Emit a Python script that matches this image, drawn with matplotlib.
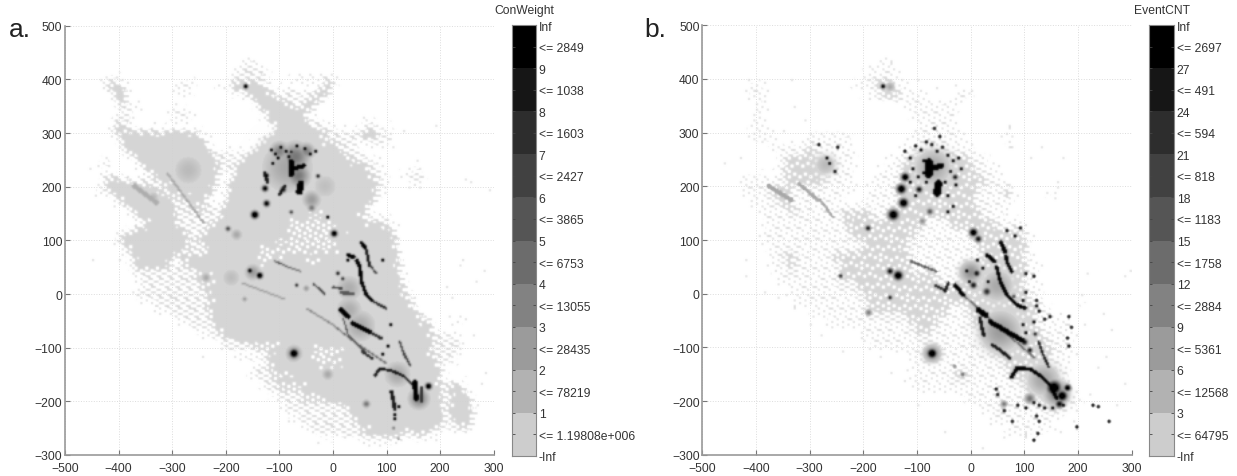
#!/usr/bin/env python
import numpy as np
import matplotlib
matplotlib.use('Agg')
import matplotlib.pyplot as plt
from matplotlib.colors import LinearSegmentedColormap, ListedColormap

plt.rcParams['font.family'] = ['Liberation Sans', 'DejaVu Sans']

#gray of each colorbar band, bottom to top
band_grays = [205, 178, 155, 130, 108, 85, 65, 45, 22, 0]

con_labels = ['-Inf', '<= 1.19808e+006', '1', '<= 78219', '2', '<= 28435', '3', '<= 13055', '4', '<= 6753', '5',
              '<= 3865', '6', '<= 2427', '7', '<= 1603', '8', '<= 1038', '9', '<= 2849', 'Inf']
evt_labels = ['-Inf', '<= 64795', '3', '<= 12568', '6', '<= 5361', '9', '<= 2884', '12', '<= 1758', '15',
              '<= 1183', '18', '<= 818', '21', '<= 594', '24', '<= 491', '27', '<= 2697', 'Inf']

#panel a: y -> x spans of the solid light area
a_dense = {
    390: [(-425, -395), (-190, -130), (-15, 5)], 380: [(-420, -385), (-195, -115), (-30, 0)],
    370: [(-410, -385), (-165, -105), (-40, -10)], 360: [(-405, -385), (-150, -90), (-50, -20)],
    350: [(-400, -385), (-140, -75), (-55, -30)], 340: [(-135, -60), (-65, -40)], 330: [(-125, -50)],
    320: [(-120, -45)], 310: [(-410, -380), (-110, -40)], 300: [(-410, -330), (-320, -250), (-110, -10), (50, 85)],
    290: [(-400, -240), (-130, -20), (55, 80)], 280: [(-400, -235), (-135, 0)], 270: [(-395, -230), (-150, 10)],
    260: [(-385, -225), (-155, 20)], 250: [(-370, -220), (-165, 40)], 240: [(-360, -215), (-175, 60)],
    230: [(-350, -215), (-180, 65)], 220: [(-340, -215), (-185, 75)],
    210: [(-425, -380), (-325, -215), (-195, 80)], 200: [(-425, -340), (-315, -215), (-195, 85)],
    190: [(-420, -320), (-305, -220), (-200, 75)], 180: [(-410, -305), (-290, -230), (-200, 80)],
    170: [(-400, -300), (-275, -235), (-205, 75)], 160: [(-385, -295), (-260, -240), (-205, 70)],
    150: [(-375, -290), (-250, -240), (-210, 60)], 140: [(-365, -290), (-215, -60), (-20, 60)],
    130: [(-350, -300), (-230, -80), (-10, 95)], 120: [(-375, -280), (-240, -90), (20, 110)],
    110: [(-395, -270), (-240, -80), (0, 115)], 100: [(-405, -265), (-255, -60), (-10, 120)],
    90: [(-395, -270), (-240, -120), (10, 120)], 80: [(-385, -285), (-235, -130), (5, 122)],
    70: [(-375, -290), (-285, -140), (-110, 125)], 60: [(-375, -300), (-285, -50), (-30, 125)],
    50: [(-370, -310), (-270, 125)], 40: [(-255, 125)], 30: [(-255, 128)], 20: [(-250, 130)],
    10: [(-240, 135)], 0: [(-236, 137)], -10: [(-235, 140)], -20: [(-235, 145)], -30: [(-233, 150)],
    -40: [(-228, 165)], -50: [(-224, 183)], -60: [(-220, 185)], -70: [(-215, 185)], -80: [(-205, 186)],
    -90: [(-170, 186)], -100: [(-150, 186)], -110: [(-124, -45), (15, 186)], -120: [(-124, -40), (15, 190)],
    -130: [(-124, -30), (10, 195)], -140: [(-124, 199)], -150: [(-115, 200)], -160: [(-110, 202)],
    -170: [(-105, 205), (211, 240)], -180: [(-105, 205), (211, 248)], -190: [(-60, 205), (213, 255)],
    -200: [(-15, 205), (214, 260)], -210: [(25, 205), (214, 260)], -220: [(30, 208), (215, 262)],
    -230: [(35, 211), (217, 262)], -240: [(45, 211), (222, 260)], -250: [(50, 190), (235, 255)],
    -260: [(56, 137), (150, 175)],
}
#panel a: y -> x spans of the thin dotted fringe
a_sparse = {
    430: [(-170, -140)], 420: [(-180, -130)], 410: [(-185, -120)], 400: [(-430, -400), (-190, -120), (-70, 5)],
    390: [(-290, -260), (-215, -205)], 380: [(-300, -260), (-100, -70)], 370: [(-90, -40)], 360: [(-90, -50)],
    350: [(-375, -355), (-75, -55)], 340: [(-400, -375), (-300, -270)], 330: [(-400, -370), (-305, -260)],
    320: [(-410, -380), (-40, -20), (55, 75)], 310: [(-40, 0), (60, 80)], 300: [(-330, -320), (-10, 30), (30, 110)],
    290: [(-20, 110)], 280: [(0, 40), (70, 100)], 270: [(10, 50)], 260: [(-225, -155), (20, 60)],
    250: [(-430, -420), (-220, -165), (40, 75)], 240: [(-440, -410), (-215, -175), (60, 85)],
    230: [(-215, -180), (65, 100), (150, 165)], 220: [(-440, -400), (75, 90), (130, 170)],
    210: [(-380, -325), (80, 100), (145, 165)], 200: [(-440, -425), (-340, -315), (85, 105), (145, 160)],
    190: [(-440, -420), (-320, -305), (75, 90)], 180: [(-305, -290), (80, 95)], 170: [(-300, -275)],
    160: [(-295, -260), (-240, -205)], 150: [(-290, -250), (-240, -210)], 140: [(-290, -215), (60, 105)],
    130: [(-300, -230), (95, 110)], 120: [(-280, -240), (110, 120)],
    110: [(-270, -240)], 100: [(-265, -255)], 90: [(-270, -240)],
    80: [(-285, -235)], 70: [(-385, -375), (-140, -110)], 60: [(-50, -30)], 50: [(-380, -370), (-310, -270)],
    40: [(-373, -255)], 30: [(-370, -255), (125, 140)], 20: [(-360, -250)], 10: [(-360, -240)],
    0: [(-373, -236), (137, 150)], -10: [(-360, -235), (140, 155)], -20: [(-330, -235), (145, 155)],
    -30: [(-335, -233), (150, 160)], -40: [(-300, -228)], -50: [(-290, -224), (222, 240)], -60: [(-270, -220)],
    -70: [(-250, -215), (185, 195)], -80: [(-230, -205), (186, 236)], -90: [(-210, -170), (186, 240)],
    -100: [(-205, -150), (186, 240)], -110: [(186, 235)], -120: [(-180, -124), (190, 230)],
    -130: [(195, 220)], -140: [(-155, -124)], -150: [(-160, -115), (200, 210)], -160: [(-140, -110)],
    -170: [(-130, -105)], -180: [(-125, -105)], -190: [(-105, -60)], -200: [(-100, -15)], -210: [(-93, 25), (205, 214)],
    -220: [(-90, 30)], -230: [(-70, 35)], -240: [(-65, 45)], -250: [(-50, 50), (190, 235)], -260: [(-30, 56), (137, 150), (175, 200)],
    -270: [(50, 130), (150, 165)],
}
#panel a: gaps inside the solid area, peppered with white
a_thin = {
    140: [(-60, -20)], 130: [(-80, -10)], 120: [(-90, 20)], 110: [(-80, 0)], 100: [(-60, -10)], 90: [(-120, 10)], 80: [(-130, 5)],
    -110: [(-45, 15)], -120: [(-40, 15)], -130: [(-30, 10)], -100: [(-130, -100)], -90: [(-180, -150)], -140: [(-125, -100)],
    -160: [(-110, -70)], -180: [(-105, -50)], 40: [(-255, -225)], 20: [(-250, -225)],
}
#panel a: ridges (gray level, half width, points)
a_ridges = [
    (10, 3.5, [(28, 72), (38, 68)]), (10, 3.0, [(44, 62), (50, 50), (53, 22), (62, -2), (72, -12)]),
    (8, 2.0, [(72, -12), (87, -21), (99, -27)]),
    (10, 3.0, [(53, 94), (60, 86)]), (9, 2.5, [(62, 80), (68, 53)]), (7, 1.6, [(68, 53), (81, 38)]),
    (10, 4.5, [(14, -30), (28, -42)]), (10, 4.0, [(36, -55), (47, -60), (68, -71)]), (8, 2.5, [(68, -71), (90, -83)]),
    (6, 1.4, [(19, -46), (28, -77), (62, -111)]), (8, 2.2, [(55, -108), (72, -120)]),
    (9, 2.4, [(78, -152), (87, -140), (106, -142), (130, -152)]), (8, 2.2, [(130, -152), (149, -170)]),
    (7, 1.8, [(124, -89), (133, -114), (144, -133)]),
    (10, 4.5, [(152, -165), (155, -195)]), (8, 3.5, [(165, -175), (165, -200)]),
    (9, 3.2, [(109, -182), (115, -214)]),
    (6, 1.3, [(-109, 61), (-85, 50)]), (5, 1.2, [(-85, 50), (-62, 42)]), (7, 1.6, [(-37, 19), (-16, 0)]), (7, 2.0, [(0, 12), (16, 10)]),
    (6, 3.0, [(16, 2), (37, 0)]),
    (4, 1.2, [(-50, -27), (0, -58)]), (5, 1.2, [(0, -58), (40, -90), (100, -130)]),
    (2.5, 1.6, [(-310, 225), (-240, 130)]), (2.2, 4, [(-370, 200), (-330, 170)]), (3, 1.2, [(-170, 20), (-90, -10)]),
    (10, 5, [(-78, 222), (-78, 245)]), (10, 4, [(-76, 232), (-55, 238)]), (10, 6, [(-63, 190), (-60, 205)]),
    (9, 3, [(-100, 185), (-90, 200)]), (9, 3, [(-128, 225), (-122, 208)]),
]
#panel a: soft patches (x, y, level, radius)
a_spots = [
    (-85, 235, 2.5, 48), (-70, 255, 4.5, 24), (-65, 220, 4.5, 20), (-40, 175, 3, 16), (-100, 265, 4, 16), (-50, 265, 4, 14),
    (-270, 230, 1.7, 32), (-15, 200, 1.5, 28), (-335, 180, 1.8, 10), (-73, -111, 4, 13), (-73, -111, 14, 7),
    (-163, 386, 14, 3.5), (-78, 264, 14, 2.5), (-124, 220, 12, 4), (-127, 196, 12, 5), (-124, 168, 12, 5), (-146, 147, 14, 6), (-93, 194, 10, 5), (-28, 219, 12, 3),
    (-196, 121, 8, 4), (-155, 43, 12, 4), (-137, 34, 14, 5), (-40, 160, 5, 6), (2, 112, 14, 5), (-78, 152, 9, 3),
    (9, 38, 12, 3), (18, 28, 10, 3), (-68, 16, 12, 2.5), (-237, 30, 2.5, 8), (-165, -10, 3.5, 4), (-50, 10, 3.5, 5),
    (160, -195, 4, 18), (178, -172, 14, 5), (62, -205, 5, 6), (-10, -150, 2.5, 10), (113, -250, 6, 2.5), (122, -270, 8, 1.5),
    (-150, 40, 3, 14), (30, 10, 2.2, 25), (30, -30, 2.2, 25), (-180, 110, 2.5, 10), (-190, 30, 1.6, 20), (50, -60, 2.4, 30), (120, -150, 2.4, 25),
]
#panel a: loose dots outside the fringe
a_dots = [(-345, 230), (-455, 230), (-360, 130), (-400, 60), (-350, -5), (-255, -60), (-245, -120), (-450, 60),
          (190, 310), (130, 300), (110, 270), (160, 195), (245, 210), (290, 190), (255, 205), (280, 40), (235, 50), (265, 20),
          (210, 10), (220, -10), (245, -50), (260, -80), (275, -170), (300, -50), (-85, -240), (-30, -280), (20, -270), (-195, -70),
          (-185, -100), (-135, -150), (240, 60), (268, -210), (282, -150)]
a_dark = [(-118, 265), (-110, 258), (-100, 270), (-90, 262), (-85, 252), (-70, 272), (-55, 268), (-45, 258), (-35, 262), (-105, 250), (-115, 240),
          (25, 60), (-12, 140), (90, 60), (113, -235), (112, -228), (120, -212), (105, -60), (100, -100), (90, -115)]

#panel b: areas thick with marks, rows 20 units tall
b_dense = {
    390: [(-180, -150)], 370: [(-170, -130)], 270: [(-310, -290)], 250: [(-345, -280), (-120, 0)],
    230: [(-350, -275), (-130, 10)], 210: [(-345, -270), (-130, 30)], 190: [(-374, -335), (-130, 10), (60, 75)],
    170: [(-360, -330), (-135, 10)], 150: [(-335, -320), (-240, -185), (-145, 20)],
    130: [(-235, -90), (-40, 50)], 110: [(-225, -100), (0, 100)], 90: [(-200, -120), (10, 105)], 70: [(-350, -325), (-260, -110), (20, 100)],
    50: [(-340, -325), (-240, -110), (0, 105)], 30: [(-250, -60), (-20, 100)], 10: [(-215, 100)], -10: [(-195, 110)],
    -30: [(-190, -40), (-10, 125)], -50: [(-120, -60), (0, 120)], -70: [(-105, -70), (20, 130)], -90: [(30, 150)],
    -110: [(-85, -55), (40, 150)], -130: [(60, 140)], -150: [(-35, -5), (70, 150)], -170: [(100, 165)], -190: [(125, 180)],
    -210: [(50, 65), (135, 170)],
}
#panel b: areas of loose marks
b_sparse = {
    430: [(-170, -145)], 410: [(-195, -130)], 390: [(-415, -395), (-215, -120)], 370: [(-415, -380), (-190, -90), (-30, 0)],
    350: [(-400, -380), (-125, -50), (-60, -20)], 330: [(-405, -385), (-110, -30)], 310: [(-410, -380), (-100, -20)],
    290: [(-410, -360), (-300, -220), (-110, -10), (60, 85)], 270: [(-370, -220), (-130, 10)], 250: [(-355, -215), (-150, 30)],
    230: [(-360, -220), (-170, 50)], 210: [(-430, -215), (-185, 70)], 190: [(-425, -215), (-190, 85), (150, 165)], 170: [(-410, -240), (-200, 80)],
    150: [(-395, -210), (-205, 70)], 130: [(-385, -70), (-60, 100)], 110: [(-390, 110)], 90: [(-385, 110)], 70: [(-375, 120)],
    50: [(-370, 125)], 30: [(-365, 125)], 10: [(-340, 130)], -10: [(-330, 135), (205, 215)], -30: [(-300, 150)],
    -50: [(-270, 185)], -70: [(-210, 190)], -90: [(-190, 190)], -110: [(-120, 195)], -130: [(-110, 180)],
    -150: [(-115, 185)], -170: [(-110, 190)], -190: [(-15, 205)], -210: [(15, 200)], -230: [(30, 170)], -250: [(60, 150), (190, 200)],
}
b_ridges = [
    (10, 3.5, [(30, 72), (45, 60)]), (10, 3.2, [(48, 50), (55, 22), (67, -2), (86, -21), (101, -27)]),
    (10, 3.5, [(56, 96), (64, 78)]), (10, 3.0, [(66, 70), (67, 60), (76, 41)]),
    (10, 5, [(14, -30), (28, -40)]), (10, 4.5, [(36, -52), (55, -63), (73, -74), (95, -86)]),
    (9, 3, [(17, -46), (24, -77)]), (9, 3, [(40, -95), (55, -105), (73, -120)]),
    (10, 3.2, [(76, -155), (86, -138), (110, -140), (129, -152), (148, -170), (160, -195)]),
    (9, 2.0, [(126, -89), (135, -114), (145, -136)]),
    (8, 2.2, [(-66, 16), (-48, 7)]), (9, 2.6, [(-42, 19), (-48, 5)]), (10, 3.5, [(-29, 16), (-14, -2)]),
    (6, 1.8, [(-110, 60), (-65, 42)]), (5, 1.6, [(-14, -2), (50, -60), (120, -120)]),
    (2.5, 3, [(-320, 205), (-285, 175)]), (2.5, 2.2, [(-280, 175), (-256, 142)]), (2.5, 4, [(-375, 200), (-335, 175)]),
    (10, 7, [(-78, 222), (-78, 245)]), (10, 5, [(-76, 232), (-55, 238)]), (10, 7, [(-63, 188), (-60, 205)]),
]
b_spots = [
    (-70, 235, 2.5, 32), (-72, -111, 4, 14), (-72, -111, 14, 7.5), (-163, 386, 14, 3.5), (-150, 385, 2.5, 8),
    (-122, 217, 14, 6), (-129, 195, 14, 7), (-125, 169, 14, 7),
    (-144, 147, 14, 8), (-96, 194, 11, 5), (-191, 122, 11, 4), (-29, 217, 11, 4), (5, 114, 14, 6), (14, 102, 11, 5), (-76, 153, 7, 5),
    (-150, 42, 11, 5), (-135, 34, 14, 7), (-242, 33, 11, 3), (-150, -7, 12, 3), (-190, -35, 5, 5), (5, 16, 11, 5), (11, 38, 11, 5),
    (30, 4, 9, 6), (160, -185, 4.5, 20), (155, -175, 14, 11), (170, -190, 14, 8), (165, -205, 11, 6), (180, -175, 14, 5),
    (110, -195, 5, 8), (62, -205, 5, 5), (-15, -150, 7, 3), (-30, -135, 6, 2.5), (100, -90, 11, 5), (120, -75, 11, 3), (-270, 240, 1.7, 20),
    (-90, 135, 4, 5), (80, -5, 9, 3), (110, -105, 11, 4), (0, 40, 3.5, 18), (50, 15, 2.4, 28), (55, -70, 3, 35), (135, -160, 2.6, 28),
]
#panel b: black specks
b_dark = [(-125, 262), (-115, 250), (-105, 272), (-95, 265), (-90, 245), (-85, 280), (-75, 275), (-65, 262), (-55, 270), (-45, 255), (-35, 245),
          (-25, 250), (-40, 225), (-30, 200), (-20, 230), (-110, 230), (-100, 215), (-90, 222), (-85, 205), (-50, 205), (-45, 180), (-35, 160),
          (-45, 150), (-115, 205), (-105, 180), (-70, 305), (-60, 290), (-285, 275), (-270, 250), (-265, 240), (-255, 225), (-250, 270),
          (90, 120), (65, 115), (80, 105), (100, 35), (115, 30), (125, -35), (135, -50), (145, -45), (180, -45), (185, -65), (178, -85), (180, -100),
          (115, -55), (95, -60), (100, -75), (85, -210), (100, -215), (115, -205), (125, -210), (135, -215), (120, -230), (125, -240), (122, -262),
          (115, -275), (75, -240), (60, -220), (45, -180), (47, -190), (195, -250), (225, -210), (235, -213), (255, -240), (150, -215), (170, -210),
          (-5, 20), (-10, 40), (30, 20), (20, 45), (10, 60), (100, 0), (95, -15), (120, -15), (120, -25)]
#panel b: pale specks outside the main body
b_dots = [(-430, 250), (-460, 240), (-390, 280), (-310, 320), (-330, 345), (-350, 300), (-335, 395), (-150, 425), (-160, 410), (-190, 420), (-100, 395), (-65, 380), (-30, 385),
          (0, 375), (70, 310), (75, 270), (110, 250), (130, 270), (170, 250), (160, 205), (140, 185), (-420, 60), (-420, 30), (-385, 0), (-360, -10), (-300, -60), (-200, -90), (-170, -120),
          (-150, -150), (-100, -210), (-50, -260), (20, -290), (60, -270), (100, -265), (150, -230), (165, -260), (220, -190), (210, -60), (215, 35), (250, -120), (235, -140), (285, -170),
          (270, -210), (295, 40), (245, -40), (260, -70), (-240, -110), (-280, -80), (-330, -30), (285, 30)]

fig = plt.figure(figsize=(12.37, 4.77), dpi=100)
W, H = 1237.0, 477.0

level_cmap = LinearSegmentedColormap.from_list('lev', [(0, (1, 1, 1, 0))] + [((i + 1) / 10.0, (g / 255.0, g / 255.0, g / 255.0, 1)) for i, g in enumerate(band_grays)])
level_norm = plt.Normalize(0, 10)

CELL = 2.5
N = 320
xc = -500 + (np.arange(N) + 0.5) * CELL
yc = -300 + (np.arange(N) + 0.5) * CELL
XX, YY = np.meshgrid(xc, yc)
#stipple threshold, golden ratio steps so the dots do not line up, 2 cells a dot
ii, jj = np.meshgrid(np.arange(N) // 2, np.arange(N) // 2)
dither = (ii * 0.7548777 + jj * 0.5698403) % 1.0


def smooth(a, sigma):
    r = int(3 * sigma) + 1
    k = np.exp(-0.5 * (np.arange(-r, r + 1) / sigma) ** 2)
    k = k / k.sum()
    a = np.apply_along_axis(lambda v: np.convolve(v, k, mode='same'), 0, a)
    return np.apply_along_axis(lambda v: np.convolve(v, k, mode='same'), 1, a)


def cell(v, lo):
    return int(round((v - lo) / CELL))


def to_grid(layers, step, ridges, spots, dots, dark):
    cov = np.zeros((N, N))
    for rows, c in layers:
        for y, spans in rows.items():
            for x0, x1 in spans:
                cov[cell(y - step / 2.0, -300):cell(y + step / 2.0, -300), cell(x0, -500):cell(x1, -500)] = c
    cov = smooth(cov, 2.5)
    lev = (cov > dither) * 0.92
    for x, y in dots:
        lev[cell(y, -300):cell(y, -300) + 2, cell(x, -500):cell(x, -500) + 2] = 0.92
    for x, y, l, r in spots:
        lev = np.maximum(lev, l * np.exp(-((XX - x) ** 2 + (YY - y) ** 2) / r ** 2))
    for l, hw, pts in ridges:
        for (x0, y0), (x1, y1) in zip(pts[:-1], pts[1:]):
            for t in np.arange(0, 1.001, 1.0 / max(2, int(np.hypot(x1 - x0, y1 - y0)))):
                px, py = x0 + t * (x1 - x0), y0 + t * (y1 - y0)
                near = (XX - px) ** 2 + (YY - py) ** 2 <= hw ** 2
                lev[near] = np.maximum(lev[near], l)
    for x, y in dark:
        lev[cell(y, -300):cell(y, -300) + 2, cell(x, -500):cell(x, -500) + 2] = 10.0
    return smooth(lev, 0.6)


def draw_map(box, grid, letter, letter_x):
    l, t, r, b = box
    ax = fig.add_axes([l / W, 1 - b / H, (r - l) / W, (b - t) / H])
    ax.set_axisbelow(True)
    ax.grid(True, color='#dcdcdc', linestyle=':', linewidth=0.7)
    ax.imshow(np.clip(grid, 0, 10), origin='lower', extent=(-500, 300, -300, 500), cmap=level_cmap, norm=level_norm,
              interpolation='bilinear', aspect='auto', zorder=0.8)
    ax.set_xlim(-500, 300)
    ax.set_ylim(-300, 500)
    ax.set_xticks(np.arange(-500, 301, 100))
    ax.set_yticks(np.arange(-300, 501, 100))
    ax.tick_params(direction='in', length=3.5, width=0.8, color='#777777', labelsize=8.7, labelcolor='#333333', pad=2)
    ax.tick_params(axis='x', pad=5)
    for s in ('top', 'right'):
        ax.spines[s].set_visible(False)
    for s in ('left', 'bottom'):
        ax.spines[s].set_color('#999999')
        ax.spines[s].set_linewidth(1.2)
    fig.text(letter_x / W, 1 - 30 / H, letter, fontsize=19, color='#222222', va='center', ha='left')


def draw_bar(box, labels, title):
    l, t, r, b = box
    ax = fig.add_axes([l / W, 1 - b / H, (r - l) / W, (b - t) / H])
    cols = [(g / 255.0, g / 255.0, g / 255.0) for g in band_grays]
    ax.pcolormesh([0, 1], np.arange(11), np.arange(10).reshape(10, 1), cmap=ListedColormap(cols), vmin=0, vmax=9)
    ax.set_xticks([])
    ax.set_ylim(0, 10)
    ax.set_yticks(np.arange(21) / 2.0)
    ax.set_yticklabels(labels)
    ax.yaxis.tick_right()
    ax.tick_params(axis='y', direction='in', length=2.5, width=0.6, color='#444444', labelsize=8.7, labelcolor='#333333', pad=2, left=True, right=True)
    for s in ax.spines.values():
        s.set_color('#888888')
        s.set_linewidth(0.8)
    ax.text(0.5, 1.0 + 9.0 / (b - t), title, transform=ax.transAxes, ha='center', va='bottom', fontsize=8.7, color='#333333')


grid_a = to_grid([(a_sparse, 0.5), (a_dense, 1.0), (a_thin, 0.75)], 10, a_ridges, a_spots, a_dots, a_dark)
grid_b = to_grid([(b_sparse, 0.3), (b_dense, 0.85)], 20, b_ridges, b_spots, b_dots, b_dark)

draw_map((65, 26.7, 493.7, 456), grid_a, 'a.', 9)
draw_bar((511.7, 26.3, 536, 456.7), con_labels, 'ConWeight')
draw_map((702.3, 26.3, 1131.7, 455.7), grid_b, 'b.', 644)
draw_bar((1149.3, 26.3, 1174, 456.7), evt_labels, 'EventCNT')

fig.savefig('out.png', dpi=100)
